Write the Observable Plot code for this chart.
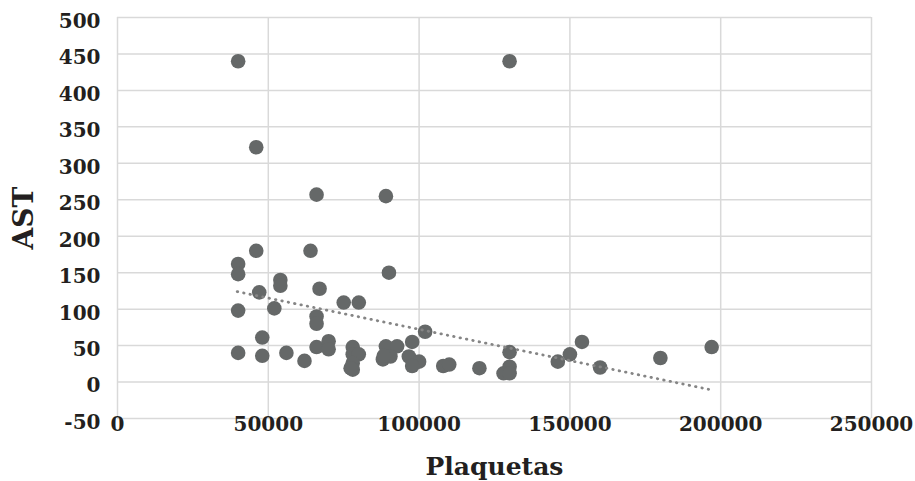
<!DOCTYPE html>
<html>
<head>
<meta charset="utf-8">
<script src="https://cdn.jsdelivr.net/npm/d3@7"></script>
<script src="https://cdn.jsdelivr.net/npm/@observablehq/plot@0.6"></script>
<style>
  html, body { margin: 0; padding: 0; background: #fff; }
</style>
</head>
<body>
<div id="chart"></div>
<script>
// Plaquetas (x) vs AST (y)
const plaquetas = [
  40000, 130000, 46000, 66000, 89000, 46000, 64000, 40000, 40000, 90000,
  54000, 54000, 67000, 47000, 75000, 80000, 40000, 52000, 66000, 66000,
  48000, 40000, 48000, 56000, 62000, 66000, 70000, 70000, 78000, 78000,
  80000, 78000, 78000, 89000, 92700, 88000, 90500, 97700, 102000, 96600,
  100000, 97700, 108000, 110000, 120000, 130000, 130000, 128000, 130000, 146000,
  150000, 154000, 160000, 180000, 197000, 77300, 88300
];
const ast = [
  440, 440, 322, 257, 255, 180, 180, 162, 148, 150,
  140, 132, 128, 123, 109, 109, 98, 101, 90, 80,
  61, 40, 36, 40, 29, 48, 56, 45, 48, 38,
  38, 26, 17, 49, 49, 31, 35, 55, 69, 35,
  28, 22, 22, 24, 19, 41, 21, 12, 12, 28,
  38, 55, 20, 33, 48, 19, 36
];
// Linear trend line end points as drawn in the reference
const trendX = [39700, 196000];
const trendY = [124, -10];

const xTicks = [0, 50000, 100000, 150000, 200000, 250000];
const yTicks = [-50, 0, 50, 100, 150, 200, 250, 300, 350, 400, 450, 500];
const xTitle = "Plaquetas";
const yTitle = "AST";

const points = plaquetas.map((x, i) => ({x, y: ast[i]}));
const trend = trendX.map((x, i) => ({x, y: trendY[i]}));
const fmt = d => String(d);

const chart = Plot.plot({
  width: 915,
  height: 481,
  marginLeft: 117,
  marginRight: 44,
  marginTop: 17,
  marginBottom: 63,
  style: {
    fontFamily: "'DejaVu Serif', serif",
    fontWeight: "bold",
    fontSize: "20px",
    color: "#231f20",
    background: "#fff"
  },
  x: {domain: [0, 250000]},
  y: {domain: [-50, 500]},
  marks: [
    Plot.gridX(xTicks, {stroke: "#d9d9d9", strokeOpacity: 1, strokeWidth: 1.5}),
    Plot.gridY(yTicks, {stroke: "#d9d9d9", strokeOpacity: 1, strokeWidth: 1.5}),
    Plot.axisX(xTicks, {tickSize: 0, tickPadding: -2, tickFormat: fmt, label: null, fontSize: 20, fill: "#231f20"}),
    Plot.axisY(yTicks, {tickSize: 0, tickPadding: 17, tickFormat: fmt, label: null, fontSize: 20, dy: 4, fill: "#231f20"}),
    Plot.dot(points, {x: "x", y: "y", r: 7.3, fill: "#656868", stroke: "none"}),
    Plot.line(trend, {x: "x", y: "y", stroke: "#858585", strokeWidth: 2.8, strokeDasharray: "0.5,6", strokeLinecap: "round"}),
    Plot.text([xTitle], {text: d => d, frameAnchor: "bottom", dy: 56, fontSize: 25, fontWeight: "bold", fill: "#231f20"}),
    Plot.text([yTitle], {text: d => d, frameAnchor: "left", textAnchor: "middle", lineAnchor: "middle", dx: -93, rotate: -90, fontSize: 28, fontWeight: "bold", fill: "#231f20"})
  ]
});
document.getElementById("chart").appendChild(chart);
</script>
</body>
</html>
